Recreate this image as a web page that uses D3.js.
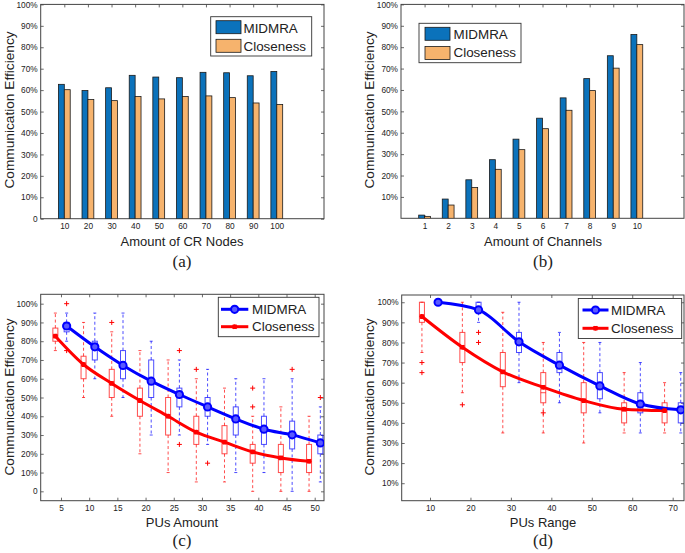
<!DOCTYPE html>
<html><head><meta charset="utf-8">
<script src="https://cdn.jsdelivr.net/npm/d3@7"></script>
<style>
body{margin:0;background:#fff}
svg{display:block}
text{font-family:"Liberation Sans",Arial,Helvetica,sans-serif;fill:#222}
</style>
</head><body>
<svg id="chart" width="685" height="553"></svg>
<script>
// ---------- DATA ----------
// (a) bar chart vs amount of CR nodes
const nodeCats = [10,20,30,40,50,60,70,80,90,100];
const nodeMIDMRA = [62.7,59.8,61.1,66.9,66.1,65.8,68.3,68.1,66.7,68.7];
const nodeCloseness = [60.2,55.6,55.1,57.0,55.9,57.0,57.3,56.5,54.0,53.3];
// (b) bar chart vs amount of channels
const chanCats = [1,2,3,4,5,6,7,8,9,10];
const chanMIDMRA = [1.5,9.0,18.0,27.4,37.0,46.8,56.3,65.3,76.0,85.9];
const chanCloseness = [0.9,6.2,14.4,22.9,32.1,41.9,50.5,59.7,70.2,81.2];
// (c) PUs amount (box plots + mean lines)
const cMidX   = [6,11,16,21,26,31,36,41,46,51];
const cMidMean= [88.1,77.0,67.1,58.7,51.6,45.0,38.6,33.1,30.1,25.8];
const cMidQ1  = [85,70,60,50,45,40,30,25,22.6,20];
const cMidQ3  = [90,80,75,70,55,50,45,40,37.4,30];
const cMidMed = [88,77,67,58,52,45,38,33,30,26];
const cMidLo  = [80,60,50,30,30,25,10,10,0,5];
const cMidHi  = [95,95,95,80,70,65,60,60,60,45];
const cMidOut = [[100,75],[],[],[],[75,25],[15],[],[],[65],[50]];
const cClsX   = [4,9,14,19,24,29,34,39,44,49];
const cClsMean= [82.7,67.6,57.5,48.4,40.0,31.5,26.2,21.0,17.8,16.0];
const cClsQ1  = [80,60,50,40,30,25,20,15,10,10];
const cClsQ3  = [87,72,65,55,50,40,35,25,25,25];
const cClsMed = [83,67,57,48,40,31,26,21,17,16];
const cClsLo  = [75,50,40,20,10,5,5,0,0,0];
const cClsHi  = [95,90,85,75,70,60,55,40,45,40];
const cClsOut = [[],[],[90],[],[],[65],[],[55,45],[],[]];
// (d) PUs range
const dMidX   = [12,22,32,42,52,62,72];
const dMidMean= [100,96.2,80.3,68.7,58.4,49.4,46.5];
const dMidQ1  = [100,95,75,65,52,45,40];
const dMidQ3  = [100,100,85,75,65,55,50];
const dMidMed = [100,96,80,69,58,49,46];
const dMidLo  = [100,90,60,50,45,35,35];
const dMidHi  = [100,100,100,85,80,70,65];
const dMidOut = [[],[85,80],[],[],[],[],[]];
const dClsX   = [8,18,28,38,48,58,68];
const dClsMean= [92.9,77.6,65.4,57.7,51.1,46.8,46.1];
const dClsQ1  = [90,70,58,50,45,40,40];
const dClsQ3  = [100,85,75,65,60,50,50];
const dClsMed = [93,77,65,55,51,46,46];
const dClsLo  = [75,55,35,35,30,35,35];
const dClsHi  = [100,100,95,80,80,65,60];
const dClsOut = [[70,65],[49],[],[45],[],[],[]];
// ticks
const pctTicksAll = [0,10,20,30,40,50,60,70,80,90,100];
const pctTicksNoZero = [10,20,30,40,50,60,70,80,90,100];
const cXTicks = [5,10,15,20,25,30,35,40,45,50];
const dXTicks = [10,20,30,40,50,60,70];
const seriesNames = ["MIDMRA","Closeness"];

// ---------- STYLE ----------
const BLUE_BAR = "#0B72BB", ORANGE_BAR = "#F6B36D";
const BLUE = "#0000FF", RED = "#FF0000";
const svg = d3.select("#chart");
const pctFmt = d => d === 0 ? "0" : d + "%";

function frame(g, x, y, xTicks, xFmt, yTicks, yFmt, id) {
  const [l, r] = x.range(), [b, t] = y.range();
  const tickFont = "8.3px";
  const bx = g.append("g").attr("transform", `translate(0,${b})`)
    .call(d3.axisBottom(x).tickValues(xTicks).tickFormat(xFmt).tickSizeInner(-3).tickSizeOuter(0).tickPadding(4.5));
  const tx = g.append("g").attr("transform", `translate(0,${t})`)
    .call(d3.axisTop(x).tickValues(xTicks).tickFormat("").tickSizeInner(-3).tickSizeOuter(0));
  const ly = g.append("g").attr("transform", `translate(${l},0)`)
    .call(d3.axisLeft(y).tickValues(yTicks).tickFormat(yFmt).tickSizeInner(-3).tickSizeOuter(0).tickPadding(3));
  const ry = g.append("g").attr("transform", `translate(${r},0)`)
    .call(d3.axisRight(y).tickValues(yTicks).tickFormat("").tickSizeInner(-3).tickSizeOuter(0));
  [bx, tx, ly, ry].forEach(a => {
    a.select(".domain").remove();
    a.selectAll("line").attr("stroke", "#444").attr("stroke-width", 0.8);
    a.selectAll("text").style("font-size", tickFont).attr("fill", "#222");
  });
  g.append("rect").attr("x", l).attr("y", t).attr("width", r - l).attr("height", b - t)
    .attr("fill", "none").attr("stroke", "#444").attr("stroke-width", 1);
  g.append("clipPath").attr("id", id).append("rect")
    .attr("x", l).attr("y", t).attr("width", r - l).attr("height", b - t);
}

function labels(cx, xlabY, xlab, ylabX, ylabCy, sub, subY) {
  svg.append("text").attr("x", cx).attr("y", xlabY).attr("text-anchor", "middle")
    .style("font-size", "13px").text(xlab);
  svg.append("text").attr("transform", `translate(${ylabX},${ylabCy}) rotate(-90)`)
    .attr("text-anchor", "middle").style("font-size", "13.7px").text("Communication Efficiency");
  svg.append("text").attr("x", cx).attr("y", subY).attr("text-anchor", "middle")
    .style("font-family", '"Liberation Serif","Times New Roman",serif').style("font-size", "17px").text(sub);
}

function barPanel(rect, cats, v1, v2, yTicks, id) {
  const x = d3.scaleLinear().domain([0, 12]).range([rect.l, rect.r]);
  const y = d3.scaleLinear().domain([0, 100]).range([rect.b, rect.t]);
  const g = svg.append("g");
  const pos = cats.map((c, i) => i + 1);
  frame(g, x, y, pos, (d) => cats[d - 1], yTicks, pctFmt, id);
  const bw = 0.25;
  const gb = g.append("g").attr("clip-path", `url(#${id})`);
  gb.selectAll(".b1").data(v1).join("rect")
    .attr("x", (d, i) => x(pos[i] - bw)).attr("width", x(bw) - x(0))
    .attr("y", d => y(d)).attr("height", d => y(0) - y(d))
    .attr("fill", BLUE_BAR).attr("stroke", "#1a1a1a").attr("stroke-width", 0.8);
  gb.selectAll(".b2").data(v2).join("rect")
    .attr("x", (d, i) => x(pos[i])).attr("width", x(bw) - x(0))
    .attr("y", d => y(d)).attr("height", d => y(0) - y(d))
    .attr("fill", ORANGE_BAR).attr("stroke", "#1a1a1a").attr("stroke-width", 0.8);
  return g;
}

function barLegend(g, box, sw) {
  g.append("rect").attr("x", box.x).attr("y", box.y).attr("width", box.w).attr("height", box.h)
    .attr("fill", "#fff").attr("stroke", "#333").attr("stroke-width", 0.9);
  [BLUE_BAR, ORANGE_BAR].forEach((c, i) => {
    g.append("rect").attr("x", sw.x).attr("y", sw.ys[i]).attr("width", 25).attr("height", 13)
      .attr("fill", c).attr("stroke", "#1a1a1a").attr("stroke-width", 0.8);
    g.append("text").attr("x", sw.tx).attr("y", sw.bl[i]).style("font-size", "13.4px").text(seriesNames[i]);
  });
}

// ----- (a)
const ga = barPanel({l: 40.7, r: 324, t: 4.4, b: 218.7}, nodeCats, nodeMIDMRA, nodeCloseness, pctTicksAll, "clipA");
barLegend(ga, {x: 210.7, y: 16.7, w: 101, h: 39.3}, {x: 216, ys: [20.7, 39.3], tx: 243.5, bl: [33.3, 50.7]});
labels(182, 245.5, "Amount of CR Nodes", 13.5, 110, "(a)", 267);

// ----- (b)
const gbP = barPanel({l: 401, r: 684, t: 4.4, b: 218.3}, chanCats, chanMIDMRA, chanCloseness, pctTicksNoZero, "clipB");
barLegend(gbP, {x: 419, y: 23.3, w: 102, h: 39.4}, {x: 425, ys: [27.3, 46.5], tx: 453.5, bl: [39.3, 57.3]});
labels(543, 245.5, "Amount of Channels", 373.5, 110, "(b)", 267);

// ---------- box/line panels ----------
function boxes(g, x, y, xs, q1, q3, med, lo, hi, outs, color) {
  const w = 5;
  const gg = g.append("g");
  xs.forEach((xv, i) => {
    const cx = x(xv);
    const st = (s) => s.attr("stroke", color).attr("stroke-width", 1).attr("stroke-opacity", 0.7).attr("fill", "none");
    st(gg.append("line").attr("x1", cx).attr("x2", cx).attr("y1", y(q3[i])).attr("y2", y(hi[i])).attr("stroke-dasharray", "3,2.5"));
    st(gg.append("line").attr("x1", cx).attr("x2", cx).attr("y1", y(q1[i])).attr("y2", y(lo[i])).attr("stroke-dasharray", "3,2.5"));
    st(gg.append("line").attr("x1", cx - 1.5).attr("x2", cx + 1.5).attr("y1", y(hi[i])).attr("y2", y(hi[i])));
    st(gg.append("line").attr("x1", cx - 1.5).attr("x2", cx + 1.5).attr("y1", y(lo[i])).attr("y2", y(lo[i])));
    st(gg.append("rect").attr("x", cx - w / 2).attr("width", w).attr("y", y(q3[i])).attr("height", Math.max(0.5, y(q1[i]) - y(q3[i]))));
    st(gg.append("line").attr("x1", cx - w / 2).attr("x2", cx + w / 2).attr("y1", y(med[i])).attr("y2", y(med[i])));
    outs[i].forEach(o => {
      gg.append("path").attr("d", `M${cx - 2.5},${y(o)}h5M${cx},${y(o) - 2.5}v5`)
        .attr("stroke", RED).attr("stroke-width", 1).attr("fill", "none");
    });
  });
}
function blueMarker(sel, cx, cy) {
  sel.append("circle").attr("cx", cx).attr("cy", cy).attr("r", 3.6)
    .attr("fill", "#5a5aff").attr("stroke", BLUE).attr("stroke-width", 2);
}
function redMarker(sel, cx, cy) {
  sel.append("path").attr("d", `M${cx - 2},${cy - 2}L${cx + 2},${cy + 2}M${cx - 2},${cy + 2}L${cx + 2},${cy - 2}M${cx - 2.4},${cy}h4.8M${cx},${cy - 2.4}v4.8`)
    .attr("stroke", RED).attr("stroke-width", 1.6).attr("fill", "none");
}
function linePanel(rect, xDom, yDom, xTicks, yTicks, id, mid, cls) {
  const x = d3.scaleLinear().domain(xDom).range([rect.l, rect.r]);
  const y = d3.scaleLinear().domain(yDom).range([rect.b, rect.t]);
  const g = svg.append("g");
  frame(g, x, y, xTicks, d => d, yTicks, pctFmt, id);
  const gc = g.append("g").attr("clip-path", `url(#${id})`);
  boxes(gc, x, y, cls.x, cls.q1, cls.q3, cls.med, cls.lo, cls.hi, cls.out, RED);
  boxes(gc, x, y, mid.x, mid.q1, mid.q3, mid.med, mid.lo, mid.hi, mid.out, BLUE);
  const line = d3.line().curve(d3.curveMonotoneX);
  gc.append("path").attr("d", line(cls.x.map((v, i) => [x(v), y(cls.mean[i])])))
    .attr("fill", "none").attr("stroke", RED).attr("stroke-width", 3);
  gc.append("path").attr("d", line(mid.x.map((v, i) => [x(v), y(mid.mean[i])])))
    .attr("fill", "none").attr("stroke", BLUE).attr("stroke-width", 3);
  cls.x.forEach((v, i) => redMarker(gc, x(v), y(cls.mean[i])));
  mid.x.forEach((v, i) => blueMarker(gc, x(v), y(mid.mean[i])));
  return g;
}
function lineLegend(g, box, ln) {
  g.append("rect").attr("x", box.x).attr("y", box.y).attr("width", box.w).attr("height", box.h)
    .attr("fill", "#fff").attr("stroke", "#333").attr("stroke-width", 0.9);
  [BLUE, RED].forEach((c, i) => {
    g.append("line").attr("x1", ln.x1).attr("x2", ln.x2).attr("y1", ln.ys[i]).attr("y2", ln.ys[i])
      .attr("stroke", c).attr("stroke-width", 3);
    const mx = (ln.x1 + ln.x2) / 2;
    if (i === 0) blueMarker(g, mx, ln.ys[i]); else redMarker(g, mx, ln.ys[i]);
    g.append("text").attr("x", ln.tx).attr("y", ln.bl[i]).style("font-size", "13.4px").text(seriesNames[i]);
  });
}

// ----- (c)
const gcP = linePanel({l: 40.7, r: 324, t: 294.3, b: 500.7}, [1.4, 51.65], [-5, 105], cXTicks, pctTicksAll, "clipC",
  {x: cMidX, mean: cMidMean, q1: cMidQ1, q3: cMidQ3, med: cMidMed, lo: cMidLo, hi: cMidHi, out: cMidOut},
  {x: cClsX, mean: cClsMean, q1: cClsQ1, q3: cClsQ3, med: cClsMed, lo: cClsLo, hi: cClsHi, out: cClsOut});
lineLegend(gcP, {x: 218.3, y: 297.3, w: 100.7, h: 39.4}, {x1: 221, x2: 248.3, ys: [309.3, 326.7], tx: 252, bl: [314, 331]});
labels(182, 527, "PUs Amount", 13.5, 397, "(c)", 546);

// ----- (d)
const gdP = linePanel({l: 401.7, r: 684, t: 295, b: 500.7}, [3, 72.8], [1.3, 103.6], dXTicks, pctTicksNoZero, "clipD",
  {x: dMidX, mean: dMidMean, q1: dMidQ1, q3: dMidQ3, med: dMidMed, lo: dMidLo, hi: dMidHi, out: dMidOut},
  {x: dClsX, mean: dClsMean, q1: dClsQ1, q3: dClsQ3, med: dClsMed, lo: dClsLo, hi: dClsHi, out: dClsOut});
lineLegend(gdP, {x: 578.3, y: 298.5, w: 103.4, h: 40}, {x1: 582.5, x2: 608.5, ys: [310, 328.3], tx: 611, bl: [315, 333.3]});
labels(543, 527, "PUs Range", 373.5, 397, "(d)", 546);
</script>
</body></html>
